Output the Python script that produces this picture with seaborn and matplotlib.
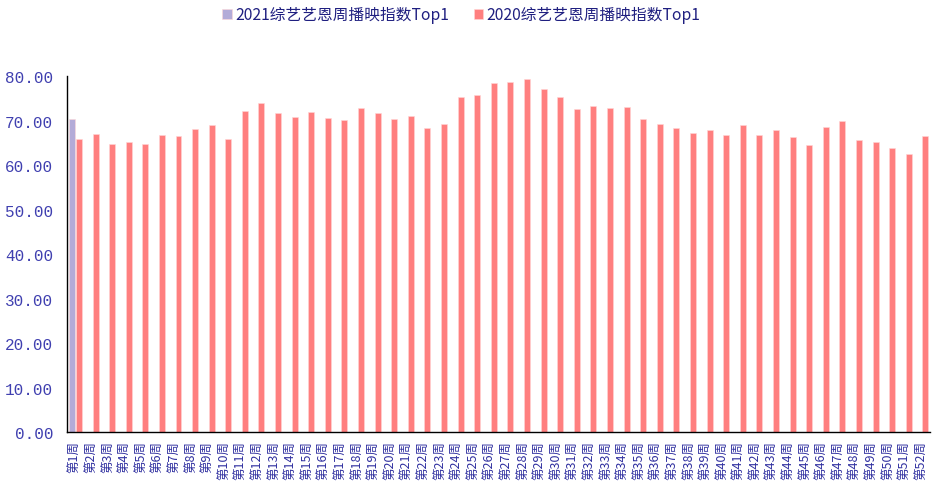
import numpy as np
import pandas as pd
import matplotlib
matplotlib.use("Agg")
import matplotlib.pyplot as plt
import seaborn as sns

# ---------------- data ----------------
weeks = [f"第{i}周" for i in range(1, 53)]
values_2020 = [65.9, 67.0, 64.8, 65.3, 64.8, 66.8, 66.5, 68.1, 69.0, 65.9,
               72.1, 74.0, 71.6, 70.9, 72.0, 70.5, 70.2, 72.8, 71.7, 70.4,
               71.1, 68.3, 69.2, 75.2, 75.8, 78.4, 78.6, 79.4, 77.0, 75.2,
               72.5, 73.2, 72.9, 73.1, 70.4, 69.2, 68.4, 67.2, 67.8, 66.8,
               69.0, 66.8, 67.9, 66.3, 64.5, 68.6, 69.9, 65.7, 65.3, 63.8,
               62.5, 66.5]
values_2021 = [70.4] + [np.nan] * 51
series_names = ["2021综艺艺恩周播映指数Top1", "2020综艺艺恩周播映指数Top1"]
colors = ["#B3ABD8", "#FF7F7F"]
y_ticks = [0, 10, 20, 30, 40, 50, 60, 70, 80]

df = pd.concat([
    pd.DataFrame({"week": weeks, "value": values_2021, "series": series_names[0]}),
    pd.DataFrame({"week": weeks, "value": values_2020, "series": series_names[1]}),
]).dropna()

# ---------------- plot ----------------
sns.set_style("white")
plt.rcParams["font.family"] = ["Noto Sans CJK SC", "DejaVu Sans"]

fig = plt.figure(figsize=(9.34, 4.85), dpi=100)
ax = fig.add_axes([0.0717, 0.107, 0.924, 0.734])

sns.barplot(data=df, x="week", y="value", hue="series", order=weeks,
            hue_order=series_names, palette=colors, saturation=1,
            width=0.88, gap=0.18, edgecolor="#FFD6D6", linewidth=0.4,
            ax=ax, legend=True)

ax.set_xlim(-0.5, len(weeks) - 0.5)
ax.set_ylim(0, 80)
ax.set_yticks(y_ticks)
ax.set_yticklabels([f"{v:.2f}" for v in y_ticks], family="Liberation Mono",
                   color="#4040B0", fontsize=11.5)
ax.set_xticks(range(len(weeks)))
ax.set_xticklabels(weeks, rotation=90, color="#3030A0", fontsize=9)
ax.set_xticks(np.arange(-0.5, len(weeks), 1), minor=True)
ax.tick_params(axis="x", which="major", length=0, pad=6)
ax.tick_params(axis="x", which="minor", length=3, width=0.8, color="black", direction="out")
ax.tick_params(axis="y", length=4, width=0.8, color="black", direction="out", pad=6)
ax.set_xlabel("")
ax.set_ylabel("")

for s in ["top", "right"]:
    ax.spines[s].set_visible(False)
for s in ["left", "bottom"]:
    ax.spines[s].set_color("black")
    ax.spines[s].set_linewidth(1.0)

handles, labels = ax.get_legend_handles_labels()
ax.legend_.remove()
leg = fig.legend(handles, labels, loc="center", bbox_to_anchor=(0.494, 0.968),
                 ncol=2, frameon=False, fontsize=11.3, handlelength=0.6,
                 handleheight=0.6, handletextpad=0.2, columnspacing=1.6)
for t in leg.get_texts():
    t.set_color("#1F1F80")

fig.savefig("out.png", dpi=100)
